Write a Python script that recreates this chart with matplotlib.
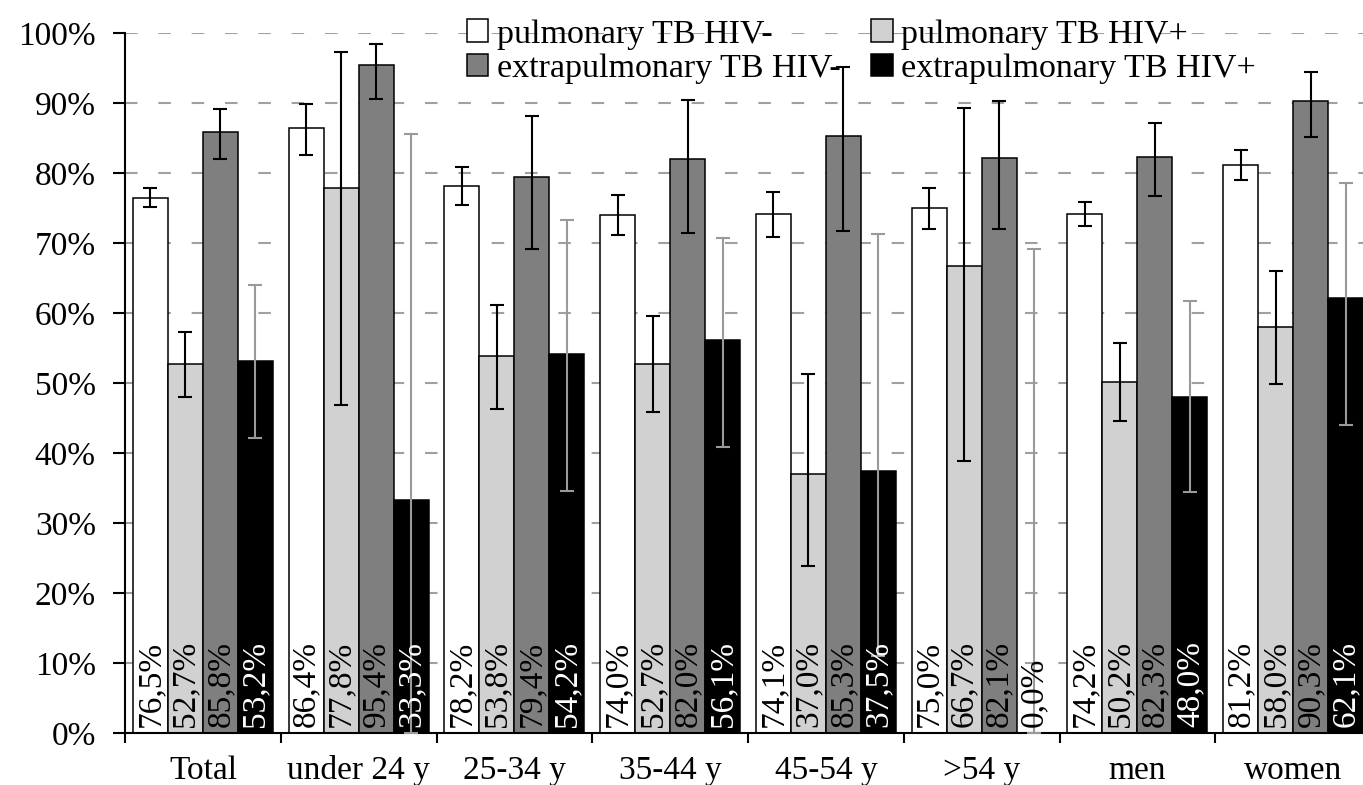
import matplotlib
matplotlib.use('Agg')
import matplotlib.pyplot as plt
import matplotlib.patches as mpatches
import matplotlib.ticker as ticker
import numpy as np

plt.rcParams['font.family'] = ['Liberation Serif', 'DejaVu Serif']
plt.rcParams['font.size'] = 24

# data
groups = ['Total', 'under 24 y', '25-34 y', '35-44 y', '45-54 y', '>54 y', 'men', 'women']
series = ['pulmonary TB HIV-', 'pulmonary TB HIV+', 'extrapulmonary TB HIV-', 'extrapulmonary TB HIV+']

pulm_neg = [76.5, 86.4, 78.2, 74.0, 74.1, 75.0, 74.2, 81.2]
pulm_pos = [52.7, 77.8, 53.8, 52.7, 37.0, 66.7, 50.2, 58.0]
extra_neg = [85.8, 95.4, 79.4, 82.0, 85.3, 82.1, 82.3, 90.3]
extra_pos = [53.2, 33.3, 54.2, 56.1, 37.5, 0.0, 48.0, 62.1]

# confidence intervals (lower, upper)
pulm_neg_lo = [75.1, 82.6, 75.5, 71.1, 70.8, 72.0, 72.5, 79.0]
pulm_neg_hi = [77.9, 89.9, 80.9, 76.8, 77.3, 77.8, 75.9, 83.3]
pulm_pos_lo = [48.0, 46.8, 46.3, 45.8, 23.8, 38.8, 44.6, 49.9]
pulm_pos_hi = [57.3, 97.3, 61.1, 59.6, 51.3, 89.3, 55.7, 66.0]
extra_neg_lo = [82.0, 90.6, 69.1, 71.4, 71.7, 72.0, 76.7, 85.2]
extra_neg_hi = [89.2, 98.5, 88.1, 90.5, 95.2, 90.3, 87.2, 94.5]
extra_pos_lo = [42.1, 0.0, 34.6, 40.9, 11.0, 0.0, 34.4, 44.0]
extra_pos_hi = [64.0, 85.6, 73.3, 70.7, 71.3, 69.1, 61.7, 78.6]

values = [pulm_neg, pulm_pos, extra_neg, extra_pos]
lows = [pulm_neg_lo, pulm_pos_lo, extra_neg_lo, extra_pos_lo]
highs = [pulm_neg_hi, pulm_pos_hi, extra_neg_hi, extra_pos_hi]

colors = ['white', '#d0d1d0', '#7f7f7f', 'black']
err_colors = ['black', 'black', 'black', '#9a9a9a']
text_colors = ['black', 'black', 'black', 'white']

fig = plt.figure(figsize=(13.63, 7.85), dpi=100)
ax = fig.add_axes([125 / 1363, 52 / 785, 1246 / 1363, 700 / 785])

x = np.arange(len(groups))
w = 0.225

for i in range(4):
    v = np.array(values[i])
    pos = x + (i - 1.5) * w
    ax.bar(pos, v, w, color=colors[i], edgecolor='black', linewidth=1.1, zorder=2)
    yerr = [v - np.array(lows[i]), np.array(highs[i]) - v]
    ax.errorbar(pos, v, yerr=yerr, fmt='none', ecolor=err_colors[i],
                elinewidth=1.5, capsize=5, capthick=1.5, zorder=3)
    for p, val in zip(pos, v):
        # label would stick out of a very short bar -> dark text on white
        tc = text_colors[i] if val > 15 else 'black'
        ax.text(p, 0.9, ('%.1f%%' % val).replace('.', ','), rotation=90,
                ha='center', va='bottom', color=tc, fontsize=24, zorder=4)

ax.set_xlim(-0.5, 7.5)
ax.set_ylim(0, 100)

ax.yaxis.set_major_locator(ticker.MultipleLocator(10))
ax.yaxis.set_major_formatter(ticker.FuncFormatter(lambda v, p: '%d%%' % v))
ax.yaxis.grid(True, color='#a0a0a0', linewidth=1.5, linestyle=(0, (6, 10)), zorder=0)
ax.set_axisbelow(True)

ax.xaxis.set_major_locator(ticker.FixedLocator(np.arange(-0.5, 8, 1)))
ax.xaxis.set_major_formatter(ticker.NullFormatter())
ax.xaxis.set_minor_locator(ticker.FixedLocator(x))
ax.xaxis.set_minor_formatter(ticker.FixedFormatter(groups))
ax.tick_params(axis='x', which='major', length=7, width=1.5, direction='out')
ax.tick_params(axis='x', which='minor', length=0, pad=16)
ax.tick_params(axis='y', which='major', length=9, width=1.5, direction='out', pad=12)

for s in ['top', 'right']:
    ax.spines[s].set_visible(False)
ax.spines['left'].set_linewidth(1.5)
ax.spines['bottom'].set_linewidth(1.5)

# legend fills column-wise: reorder so rows read pulmonary / extrapulmonary
order = [0, 2, 1, 3]
handles = [mpatches.Patch(facecolor=colors[k], edgecolor='black', linewidth=1.1) for k in order]
labels = [series[k] for k in order]
fig.legend(handles, labels, ncol=2, frameon=False, loc='upper left',
           bbox_to_anchor=(467 / 1363, 1 - 19 / 785), borderpad=0, borderaxespad=0,
           handlelength=0.63, handleheight=0.63, handletextpad=0.25,
           labelspacing=0.12, columnspacing=0.9, fontsize=24.5)

fig.savefig('out.png', dpi=100)
